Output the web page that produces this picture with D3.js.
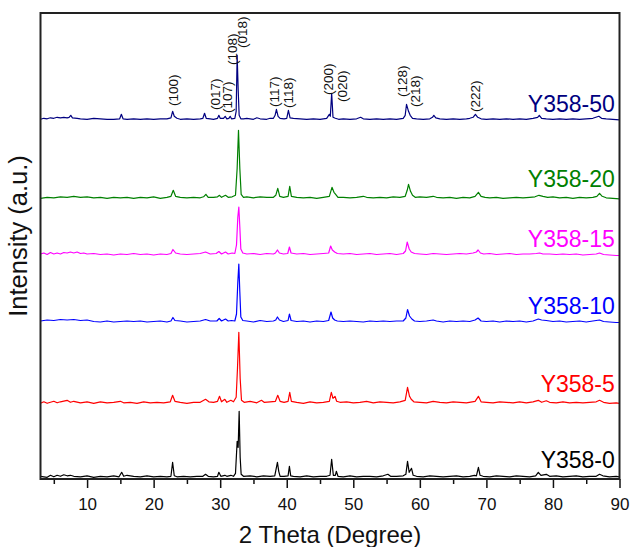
<!DOCTYPE html>
<html>
<head>
<meta charset="utf-8">
<script src="https://cdn.jsdelivr.net/npm/d3@7"></script>
<style>
html,body{margin:0;padding:0;background:#fff;}
svg{display:block;font-family:"Liberation Sans",Arial,sans-serif;}
</style>
</head>
<body>
<svg id="chart" width="631" height="547"></svg>
<script>
// ---- Data: [2θ (degree), intensity above own baseline (a.u.)] ----
const sampleNames = ["Y358-0","Y358-5","Y358-10","Y358-15","Y358-20","Y358-50"];
const sampleColors = ["#000000","#ff0000","#0000ff","#ff00ff","#008000","#000080"];
const sampleOffsets = [1.7, 75.7, 157, 224, 280.7, 359.7];
const sampleLabelY = [11, 87, 165, 232, 292.3, 367];

const y358_0 = [[3,1],[4,0],[4.5,2],[5,0.5],[5.5,2],[6,1],[6.5,2.5],[7,1.5],[7.5,2],[8,1],[9,0.5],[10,1.5],[11,0],[12,1],[13,0.5],[14,1.5],[14.8,0.5],[15.2,5],[15.5,1],[16,2],[17,1],[18,0.5],[19,1.5],[20,0.5],[21,1],[22,0.5],[22.6,1],[22.85,15],[23.1,1.5],[23.5,0.5],[24.5,1],[25.5,0.5],[26.5,1],[27.4,1],[27.8,3],[28.2,1],[29,0.5],[29.6,1],[29.8,5],[30.1,1],[30.7,2],[31,1],[31.6,2],[32,1],[32.3,4],[32.55,36],[32.7,30],[32.85,66],[33.0,20],[33.15,3],[33.5,1],[34.5,1.5],[35.5,0.5],[36.5,1.5],[37.5,1],[38.2,1.5],[38.6,15],[38.8,6],[39.0,1],[39.6,1],[40.2,1.5],[40.4,11],[40.6,1.5],[41,1],[42,0.5],[43,1.5],[44,0.5],[45,1],[46,1],[46.5,2],[46.75,18],[47,2],[47.3,2],[47.45,6],[47.7,1],[48.5,0.5],[49.5,1.5],[50.5,0.5],[51.5,1],[52.5,1],[53.5,0.5],[54.5,1.5],[55.2,3],[55.6,1],[56.5,1],[57.5,1.5],[57.9,3],[58.15,16],[58.4,5],[58.75,9],[59,2],[59.5,1],[60.5,0.5],[61.5,1.5],[62.5,1],[63.5,0.5],[64.5,1],[65.5,1.5],[66.5,0.5],[67.5,1],[68.2,2],[68.5,1.5],[68.8,10],[69.05,2],[69.5,1],[70.5,0.5],[71.5,1.5],[72.5,1],[73.5,0.5],[74.5,1.5],[75.5,1],[76.5,0.5],[77.4,1.5],[77.8,5],[78.2,2],[79,3],[79.5,1],[80.5,1.5],[81.5,0.5],[82.5,1],[83.5,1.5],[84.5,0.5],[85.5,1],[86.5,1],[87,3],[87.5,1.5],[88.5,0.5],[89.5,1],[90,0.5]];

const y358_5 = [[3,0],[3.5,1.5],[4,0],[5,2],[5.5,0.5],[6,1.5],[7,3],[7.5,1],[8,2],[9,0.5],[10,1.5],[11,0],[12,1.5],[13,0.5],[14,1],[15,2],[15.5,0.5],[16.5,1],[17.5,0],[18.5,1.5],[19.5,0.5],[20.5,1],[21.5,0.5],[22.5,1.5],[22.85,8],[23.2,2],[24,1],[25,0],[26,1],[27,1],[27.8,4],[28.3,1.5],[29,1],[29.6,2],[29.9,7],[30.2,1.5],[30.7,4],[31,1],[31.6,3],[32,1.5],[32.4,6],[32.6,35],[32.8,71],[33.0,25],[33.2,3],[33.6,1],[34.5,2],[35.5,0.5],[36.2,3],[36.6,1],[37.5,1.5],[38.3,2],[38.65,8],[39,2],[39.6,1],[40.2,2],[40.45,11],[40.7,2],[41.5,1],[42.5,0],[43.5,1.5],[44.5,0.5],[45.5,1],[46.4,2],[46.7,11],[46.95,5],[47.25,7],[47.5,2],[48,1],[49,1.5],[50,0.5],[51,1],[52,2],[53,0.5],[54,1.5],[55,1],[56,0.5],[57,1.5],[57.8,3],[58.15,16],[58.45,7],[58.7,4],[59.1,1.5],[60,1],[61,0.5],[62,2],[63,1],[64,0.5],[65,1.5],[66,1],[67,0.5],[68.3,2],[68.8,7],[69.2,1.5],[70,1],[71,0.5],[72,1.5],[73,1],[74,0.5],[75,1.5],[76,0.5],[77,1.5],[77.8,3],[78.3,1],[79,2.5],[79.5,1],[80.5,0.5],[81.5,1.5],[82.5,0.5],[83.5,1],[84.5,0.5],[85.5,1],[86.5,1.5],[87,3],[87.6,1],[88.5,0],[89.5,0.5],[90,0]];

const y358_10 = [[3,1],[4,2],[5,1.5],[6,2.5],[7,2],[8,2.5],[9,1.5],[10,2],[11,0.5],[12,0],[13,1],[14,0],[15,0.5],[16,1],[17,0.5],[18,1],[19,0],[20,0.5],[21,1],[22,0],[22.6,1],[22.9,4.5],[23.2,1.5],[24,1],[25,0],[26,0.5],[27,1],[27.8,2.5],[28.5,1],[29.5,1],[29.85,3.5],[30.2,1],[30.8,3],[31.2,1],[31.7,1.5],[32.2,1],[32.45,8],[32.65,40],[32.8,58],[32.95,30],[33.1,5],[33.4,1.5],[34,1],[35,0],[36,1.5],[37,0.5],[38,1],[38.35,2],[38.6,5],[38.9,2],[39.5,0.5],[40.2,1.5],[40.4,8],[40.65,1.5],[41.5,0.5],[42.5,1],[43.5,0],[44.5,1],[45.5,0.5],[46.3,1.5],[46.65,10],[46.9,4],[47.2,2],[47.6,1],[48.5,0.5],[49.5,1],[50.5,0.5],[51.5,0],[52.5,1],[53.5,0.5],[54.5,1],[55.5,0.5],[56.5,1],[57.5,1],[57.9,4],[58.15,12.5],[58.45,6],[58.8,3],[59.2,1],[60,0.5],[61,1],[62,2],[62.5,1],[63.5,0],[64.5,1],[65.5,0.5],[66.5,1],[67.5,0.5],[68.3,2],[68.75,4],[69.2,1],[70,0.5],[71,1],[72,0],[73,1],[74,0.5],[75,1],[76,0],[77,1],[77.8,3],[78.3,2],[79,1.5],[80,0.5],[81,1],[82,0],[83,0.5],[84,1],[85,0],[86,1],[87,2],[87.6,0.5],[88.5,0],[89.5,-0.5],[90,-0.5]];

const y358_15 = [[3,1],[3.5,2],[4,0.5],[4.5,2.5],[5,1],[5.5,2],[6,1],[6.5,2.5],[7,2],[7.5,3],[8,2],[8.5,3],[9,1.5],[9.5,2],[10,1],[11,1.5],[12,0.5],[13,1],[14,0],[15,1],[16,0.5],[17,1.5],[18,0.5],[19,1],[20,0],[21,1],[22,0.5],[22.6,1.5],[22.9,5.5],[23.3,2],[24,1],[25,0.5],[26,1],[27,1.5],[27.8,3],[28.5,1],[29.4,1.5],[29.8,3.5],[30.2,1],[30.8,3],[31.2,1],[31.8,2],[32.2,1.5],[32.45,10],[32.65,38],[32.8,48],[32.95,28],[33.1,6],[33.4,2],[34,1],[35,1.5],[36,0.5],[37,1.5],[38,1],[38.3,2],[38.6,5],[38.9,2],[39.5,1],[40.15,1.5],[40.4,8],[40.65,2],[41.5,1],[42.5,1.5],[43.5,0.5],[44.5,1],[45.5,1.5],[46.3,2],[46.6,9],[46.85,5],[47.2,3],[47.6,1.5],[48.5,1],[49.5,1.5],[50.5,0.5],[51.5,1],[52.5,1.5],[53.5,0.5],[54.5,1],[55.5,1.5],[56.5,0.5],[57.5,1.5],[57.85,4],[58.1,13],[58.4,6],[58.7,3],[59.2,1.5],[60,1],[61,0.5],[62,1.5],[63,1],[64,0.5],[65,1],[66,1.5],[67,1],[68,2],[68.5,3],[68.75,5],[69.1,2],[69.6,1],[70.5,1.5],[71.5,0.5],[72.5,1],[73.5,1.5],[74.5,0.5],[75.5,1],[76.5,1],[77.5,1.5],[78,2],[78.5,1],[79.5,1],[80.5,0.5],[81.5,1],[82.5,0.5],[83.5,1],[84.5,0],[85.5,0.5],[86.5,1],[87,2],[87.6,0.5],[88.5,0],[89.5,-0.5],[90,-0.5]];

const y358_20 = [[3,0],[4,1],[5,0.5],[6,1.5],[7,1],[8,2],[9,1],[10,1.5],[11,0.5],[12,1],[13,0],[14,1],[15,0.5],[16,1],[17,0],[18,1],[19,0.5],[20,1.5],[21,0],[22,1],[22.6,2],[22.95,8],[23.3,2],[24,1],[25,0.5],[26,1],[27,0.5],[27.5,1.5],[27.85,4],[28.2,1],[29,1],[29.6,1.5],[29.9,3],[30.2,1],[30.8,3],[31.2,1],[31.8,1.5],[32.3,3],[32.55,30],[32.75,68],[32.95,30],[33.15,4],[33.5,1],[34,1.5],[35,0.5],[36,1.5],[37,1],[38,1],[38.35,3],[38.65,10],[38.95,2],[39.5,1],[40.2,2],[40.45,12],[40.7,2],[41.5,1],[42.5,0.5],[43.5,1],[44.5,0],[45.5,1],[46.4,2],[46.8,11],[47.1,6],[47.35,4],[47.7,1],[48.5,1],[49.5,0.5],[50.5,1],[51.5,2],[52,1],[53,0.5],[54,1],[55,0.5],[56,1.5],[57,1],[57.8,2],[58.1,8],[58.3,14],[58.6,7],[58.9,3],[59.3,1],[60,1.5],[61,1],[62,2],[62.5,1],[63.5,0.5],[64.5,1],[65.5,0],[66.5,1],[67.5,0.5],[68.3,2],[68.8,6],[69.2,2],[69.8,1],[70.5,0.5],[71.5,1],[72.5,0],[73.5,0.5],[74.5,1],[75.5,0.5],[76.5,1],[77.3,1.5],[77.9,3],[78.5,2],[79.2,1],[80,1.5],[81,0.5],[82,1],[83,0],[84,1],[85,0.5],[86,1],[86.6,2],[87,5],[87.4,2],[88,0.5],[89,0],[90,-0.5]];

const y358_50 = [[3,0],[3.5,1],[4,0.5],[4.5,1.5],[5,1],[5.5,2],[6,1.5],[6.5,2],[7,1.5],[7.3,2],[7.55,4],[7.8,1.5],[8.5,1],[9,0.5],[10,0],[11,1],[12,0.5],[13,0],[14,0],[14.9,0.5],[15.15,5],[15.4,0.5],[16,0],[17,0.5],[18,0],[19,0.5],[20,0],[21,0.5],[22,0.5],[22.6,1.5],[22.85,8],[23.1,3],[23.5,1],[24,0],[25,0.5],[26,0],[27,0.5],[27.4,1],[27.65,6],[27.9,1],[28.5,0.5],[29,0],[29.6,1],[29.8,4],[30,1],[30.5,1],[30.75,3],[31,0.5],[31.3,1],[31.5,3],[31.7,0.5],[32.2,1],[32.4,8],[32.55,64],[32.7,30],[32.85,4],[33.1,0.5],[33.5,0.5],[34,1],[35,0],[35.5,1.5],[36,0.5],[37,0],[37.5,1],[38,1],[38.25,4],[38.45,10],[38.7,3],[39,1],[39.6,0.5],[40,1],[40.25,9],[40.5,1.5],[41,1],[42,0.5],[43,0],[44,0.5],[45,0],[46,1],[46.4,5],[46.55,3],[46.75,26],[46.95,2],[47.3,1],[47.8,0],[48.5,0.5],[49.5,0],[50.5,0.5],[51.1,2],[51.5,0.5],[52.5,0],[53.5,0.5],[54.5,0],[55.5,0.5],[56.5,0],[57.5,1],[57.8,4],[58.0,15],[58.3,8],[58.55,4],[58.9,1],[59.5,0.5],[60.5,0],[61.5,0.5],[61.9,2],[62.1,4],[62.4,1.5],[63,0.5],[64,0],[65,0.5],[66,0],[67,0.5],[67.5,1],[68.0,2],[68.35,5],[68.7,2],[69.2,0.5],[70,0],[71,0.5],[72,0],[73,0.5],[74,0],[75,0.5],[76,0],[77,1],[77.7,2],[77.95,4],[78.3,1],[79,0.5],[80,0],[81,0.5],[82,0],[83,0.5],[84,0],[85,0.5],[86,1],[86.9,3],[87.3,1],[88,0.5],[89,0],[90,-0.5]];

const seriesValues = [y358_0, y358_5, y358_10, y358_15, y358_20, y358_50];

// Miller-index annotations for the top pattern: label, 2θ, label foot height (a.u.)
const hklLabels = ["(100)","(017)","(107)","(108)","(018)","(117)","(118)","(200)","(020)","(128)","(218)","(222)"];
const hklTheta  = [23.0, 29.3, 31.1, 31.8, 33.3, 38.1, 40.2, 46.2, 48.3, 57.3, 59.3, 68.3];
const hklFoot   = [373, 369, 366, 414, 431, 372, 371, 384, 377, 382, 372, 367];

const majorTicks = [10,20,30,40,50,60,70,80,90];
const minorTicks = [5,15,25,35,45,55,65,75,85];
const xTitle = "2 Theta (Degree)";
const yTitle = "Intensity (a.u.)";

// ---- Drawing ----
const svg = d3.select("#chart");
const L = 40.5, R = 619.5, T = 13, B = 479;
const x = d3.scaleLinear().domain([3, 90]).range([L, R]);
const y = d3.scaleLinear().domain([0, 466]).range([B, T]);

svg.append("clipPath").attr("id","plotclip")
  .append("rect").attr("x",L).attr("y",T).attr("width",R-L).attr("height",B-T);

const g = svg.append("g").attr("clip-path","url(#plotclip)");
seriesValues.forEach((vals, i) => {
  const line = d3.line()
    .x(d => x(d[0]))
    .y(d => y(sampleOffsets[i] + d[1]));
  g.append("path")
    .datum(vals)
    .attr("d", line)
    .attr("fill","none")
    .attr("stroke", sampleColors[i])
    .attr("stroke-width", 1.2)
    .attr("stroke-linejoin","round");
});

// sample labels
sampleNames.forEach((n, i) => {
  svg.append("text")
    .attr("x", x(89.3))
    .attr("y", y(sampleLabelY[i]))
    .attr("text-anchor","end")
    .attr("font-size", 23)
    .attr("fill", sampleColors[i])
    .text(n);
});

// hkl labels
hklLabels.forEach((t, i) => {
  const px = x(hklTheta[i]), py = y(hklFoot[i]);
  svg.append("text")
    .attr("transform", `translate(${px},${py}) rotate(-90)`)
    .attr("dy","0.35em")
    .attr("font-size", 13.5)
    .attr("fill","#111")
    .text(t);
});

// axes
const axMajor = d3.axisBottom(x).tickValues(majorTicks).tickSize(9).tickPadding(10).tickFormat(d3.format("d"));
const axMinor = d3.axisBottom(x).tickValues(minorTicks).tickSize(5).tickFormat("");
const gMinor = svg.append("g").attr("transform",`translate(0,${B})`).call(axMinor);
const gMajor = svg.append("g").attr("transform",`translate(0,${B})`).call(axMajor);
[gMinor, gMajor].forEach(a => {
  a.select(".domain").remove();
  a.selectAll("line").attr("stroke","#111").attr("stroke-width",1.5);
  a.selectAll("text").attr("font-size",17).attr("fill","#111")
    .attr("font-family","'Liberation Sans',Arial,sans-serif");
});

// frame
svg.append("rect").attr("x",L).attr("y",T).attr("width",R-L).attr("height",B-T)
  .attr("fill","none").attr("stroke","#222").attr("stroke-width",2);

// titles
svg.append("text").attr("x",(L+R)/2).attr("y",543).attr("text-anchor","middle")
  .attr("font-size",24).attr("fill","#111").text(xTitle);
svg.append("text").attr("transform",`translate(27,236) rotate(-90)`).attr("text-anchor","middle")
  .attr("font-size",25.5).attr("fill","#111").text(yTitle);
</script>
</body>
</html>
